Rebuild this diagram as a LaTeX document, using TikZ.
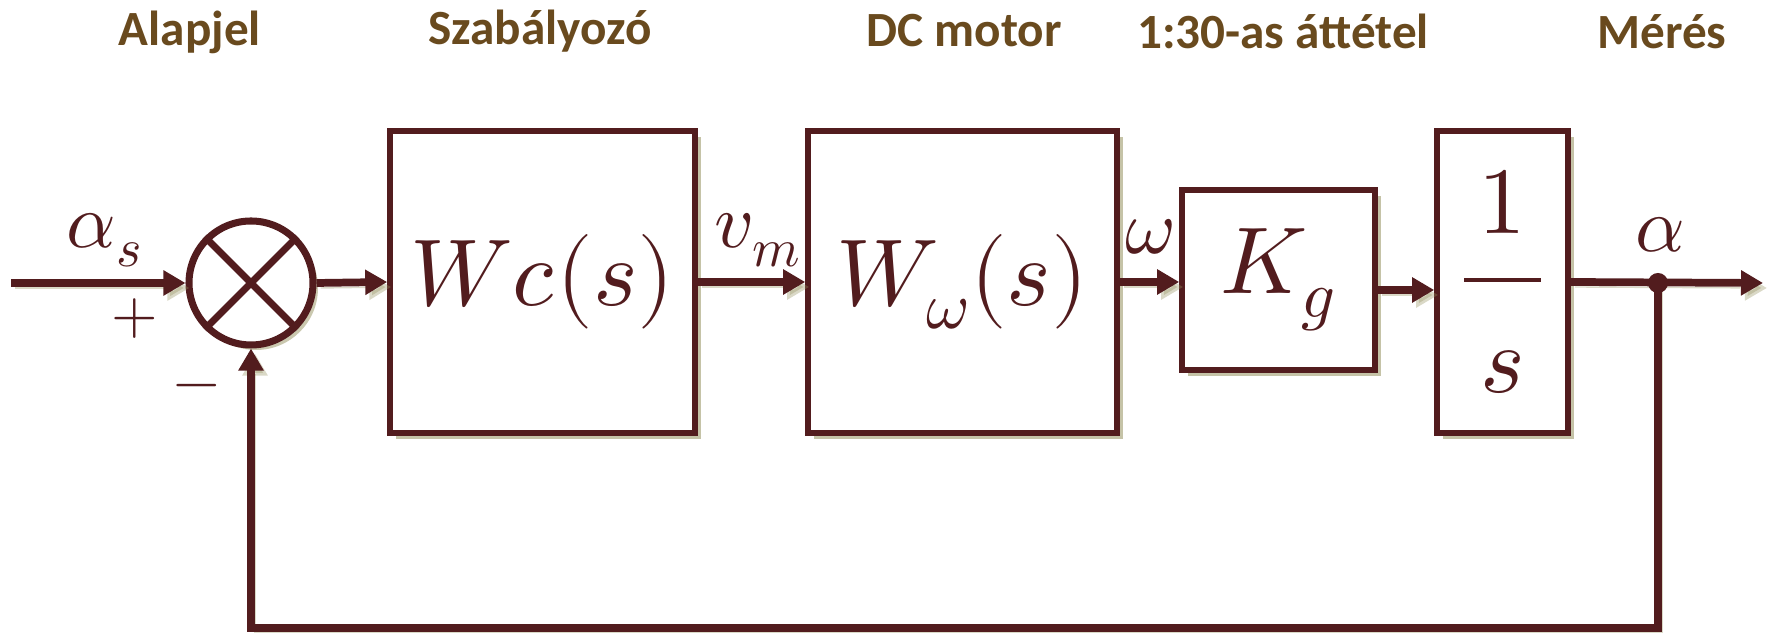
\documentclass[tikz,border=0pt]{standalone}
\usepackage{fontspec}
\usepackage{unicode-math}
\setmathfont{Latin Modern Math}
\newfontfamily\headfont{Carlito}
\usetikzlibrary{positioning,arrows.meta,shadows}

\begin{document}
\begin{tikzpicture}[
    blk/.style={draw=sigred, line width=1.6pt, fill=white, inner sep=0pt,
      font=\fontsize{27}{30}\selectfont, text=sigred,
      drop shadow={shadow xshift=0.06cm, shadow yshift=-0.06cm,
        fill=shadowolive, opacity=0.55}},
    sumcirc/.style={circle, draw=sigred, line width=2pt, fill=white,
      minimum size=1.24cm, inner sep=0pt,
      drop shadow={shadow xshift=0.05cm, shadow yshift=-0.05cm,
        fill=shadowolive, opacity=0.5}},
    sig/.style={draw=sigred, line width=2.2pt,
      -{Triangle[length=0.22cm,width=0.24cm]},
      preaction={draw=shadowolive, opacity=0.35,
        transform canvas={shift={(0.04,-0.05)}}}},
    head/.style={text=headbrown, font=\headfont\bfseries\fontsize{14}{16}\selectfont},
    lbl/.style={text=sigred, font=\fontsize{22}{26}\selectfont},
    sgn/.style={text=sigred, font=\fontsize{17}{20}\selectfont},
  ]
  % colors close to the figure
  \definecolor{sigred}{RGB}{82,28,30}
  \definecolor{headbrown}{RGB}{105,74,30}
  \definecolor{shadowolive}{RGB}{150,145,95}

  \useasboundingbox (0,0) rectangle (17.73,6.33);

  % headings
  \node[head] (hset)  at (1.90,6.01) {Alapjel};
  \node[head] (hctrl) at (5.40,6.02) {Szabályozó};
  \node[head] (hmot)  at (9.64,6.02) {DC motor};
  \node[head] (hgear) at (12.83,6.02) {1:30-as áttétel};
  \node[head] (hmeas) at (16.62,6.01) {Mérés};

  % blocks
  \node[sumcirc] (sum) at (2.51,3.50) {};
  \draw[sigred, line width=2pt] (sum.north west) -- (sum.south east)
                                (sum.north east) -- (sum.south west);
  \node[blk, minimum width=3.05cm, minimum height=3.02cm] (ctrl)  at (5.425,3.51) {$Wc(s)$};
  \node[blk, minimum width=3.09cm, minimum height=3.02cm] (motor) at (9.625,3.51) {$W_{\omega}(s)$};
  \node[blk, minimum width=1.93cm, minimum height=1.80cm] (kg)    at (12.785,3.53) {$K_g$};
  \node[blk, minimum width=1.31cm, minimum height=3.02cm] (int)   at (15.025,3.51)
    {$\dfrac{\rule[-0.35em]{0pt}{0pt}1}{\rule{0pt}{1.05em}\,s\,}$};

  % signal points
  \coordinate (in)  at (0.11,3.50);
  \coordinate (out) at (17.63,3.50);
  \coordinate (tap) at (16.58,3.50);
  \coordinate (fbk) at (16.58,0.05);

  % forward path
  \draw[sig] (in) -- (sum.west);
  \draw[sig] (sum.east) -- (ctrl.west);
  \draw[sig] (ctrl.east) -- (motor.west);
  \draw[sig] (motor.east) -- (motor.east -| kg.west);
  \draw[sig] ([yshift=-0.1cm]kg.east) -- ([yshift=-0.1cm]kg.east -| int.west);
  \draw[sig] (int.east) -- (out);

  % feedback
  \draw[sig] (tap) -- (fbk) -| (sum.south);
  \fill[sigred] (tap) circle (0.1);

  % labels
  \node[lbl] (las)  at (1.05,3.93) {$\alpha_s$};
  \node[sgn] (lpl)  at (1.35,3.14) {$+$};
  \node[sgn] (lmi)  at (1.97,2.41) {$-$};
  \node[lbl] (lvm)  at (7.58,3.93) {$v_m$};
  \node[lbl] (lom)  at (11.50,3.96) {$\omega$};
  \node[lbl] (lal)  at (16.60,3.98) {$\alpha$};
\end{tikzpicture}
\end{document}
